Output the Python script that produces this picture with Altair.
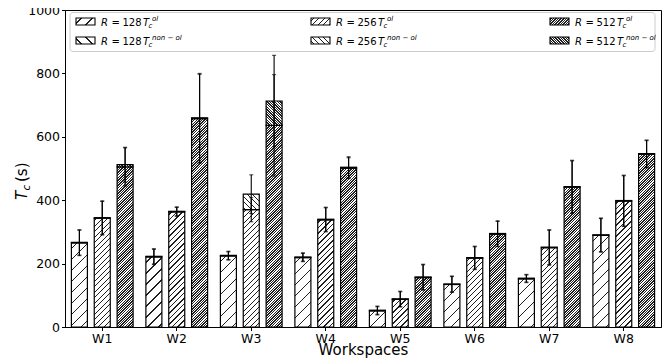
import math
import altair as alt
import pandas as pd

# ---------------- data ----------------
workspaces = ["W1", "W2", "W3", "W4", "W5", "W6", "W7", "W8"]
r_values = ["128", "256", "512"]

# T_c^ol (bottom part of each bar) per workspace, for R = 128, 256, 512
ol_mean = [
    [265, 343, 505],
    [221, 363, 657],
    [224, 370, 636],
    [219, 338, 501],
    [51, 87, 156],
    [134, 217, 293],
    [152, 250, 441],
    [289, 397, 545],
]
ol_err = [
    [40, 53, 60],
    [24, 14, 140],
    [13, 38, 160],
    [13, 38, 33],
    [13, 24, 40],
    [25, 36, 40],
    [12, 55, 83],
    [53, 80, 43],
]
# T_c^non-ol (stacked on top of the ol part)
nonol_mean = [
    [2, 2, 7],
    [2, 2, 3],
    [2, 49, 77],
    [2, 2, 3],
    [2, 2, 2],
    [2, 2, 2],
    [2, 2, 2],
    [2, 2, 2],
]
nonol_err = [
    [40, 53, 55],
    [24, 14, 140],
    [13, 61, 144],
    [13, 38, 33],
    [13, 24, 40],
    [25, 36, 40],
    [12, 55, 83],
    [53, 80, 43],
]

# ---------------- layout ----------------
W, H = 596, 317
YMAX = 1000
ppu = H / YMAX
step = W / len(workspaces)
OFF_PI, OFF_PO = 0.3, 0.28
off_step = step / (len(r_values) - OFF_PI + 2 * OFF_PO)
bw = off_step * (1 - OFF_PI)

hatch_spacing = {"128": 11.0, "256": 5.5, "512": 2.6}
FONT = "DejaVu Sans"


def hatch(w, h, sp, back=False, lw=1.0, color="#1f1f1f"):
    """Diagonal hatch as a linear gradient in bounding-box units."""
    h = max(h, 0.5)
    L = w + h
    s = L / (w * w + h * h)
    if back:
        x1, y1, x2, y2 = 0, 1, s * w, 1 - s * h
    else:
        x1, y1, x2, y2 = 0, 0, s * w, s * h
    d = lw * math.sqrt(2) / 2 / L
    stops = []
    c = sp / 2
    while c < L + sp:
        t = c / L
        a, b = t - d, t + d
        if b > 0 and a < 1:
            a = max(a, 0.0)
            b = min(b, 1.0)
            stops += [(a, "#ffffff"), (a, color), (b, color), (b, "#ffffff")]
        c += sp
    if not stops:
        stops = [(0, "#ffffff"), (1, "#ffffff")]
    return {
        "gradient": "linear",
        "x1": round(x1, 5), "y1": round(y1, 5),
        "x2": round(x2, 5), "y2": round(y2, 5),
        "stops": [{"offset": round(o, 5), "color": col} for o, col in stops],
    }


xscale = alt.Scale(domain=workspaces, paddingInner=0, paddingOuter=0)
offscale = alt.Scale(domain=r_values, paddingInner=OFF_PI, paddingOuter=OFF_PO)
yscale = alt.Scale(domain=[0, YMAX], nice=False, zero=True)
xaxis = alt.Axis(title="Workspaces", labelAngle=0, labelPadding=1.5, grid=False,
                 titleFontSize=15, titleFontWeight="normal", titleFont=FONT,
                 titleY=27, titleBaseline="alphabetic")
yaxis = alt.Axis(title=None, values=[0, 200, 400, 600, 800, 1000], format="d",
                 labelPadding=2, grid=False)


def enc_x():
    return dict(
        x=alt.X("ws:N", scale=xscale, axis=xaxis, sort=workspaces),
        xOffset=alt.XOffset("R:N", scale=offscale, sort=r_values),
    )


layers = []

# ---------------- bars ----------------
for i, ws in enumerate(workspaces):
    for j, r in enumerate(r_values):
        base = ol_mean[i][j]
        top = base + nonol_mean[i][j]
        for y0, y1, back in [(0, base, False), (base, top, True)]:
            row = pd.DataFrame({"ws": [ws], "R": [r], "y0": [y0], "y1": [y1]})
            grad = hatch(bw, (y1 - y0) * ppu, hatch_spacing[r], back=back)
            layers.append(
                alt.Chart(row)
                .mark_bar(fill=grad, stroke="black", strokeWidth=1.2)
                .encode(y=alt.Y("y0:Q", scale=yscale, axis=yaxis), y2="y1:Q", **enc_x())
            )

# ---------------- error bars ----------------
err_rows = []
for i, ws in enumerate(workspaces):
    for j, r in enumerate(r_values):
        m = ol_mean[i][j]
        e = ol_err[i][j]
        err_rows.append({"ws": ws, "R": r, "lo": m - e, "hi": m + e})
        t = ol_mean[i][j] + nonol_mean[i][j]
        e2 = nonol_err[i][j]
        err_rows.append({"ws": ws, "R": r, "lo": t - e2, "hi": t + e2})
err_df = pd.DataFrame(err_rows)

layers.append(
    alt.Chart(err_df).mark_rule(color="black", strokeWidth=1.1)
    .encode(y=alt.Y("lo:Q", scale=yscale, axis=yaxis), y2="hi:Q", **enc_x())
)
for fld in ["lo", "hi"]:
    layers.append(
        alt.Chart(err_df).mark_tick(color="black", thickness=1.1, size=4)
        .encode(y=alt.Y(f"{fld}:Q", scale=yscale, axis=yaxis), **enc_x())
    )

# ---------------- legend (drawn by hand for math text) ----------------
dummy = pd.DataFrame({"a": [0]})

layers.append(
    alt.Chart(dummy).mark_rect(fill="white", fillOpacity=0.8, stroke="#cccccc",
                               strokeWidth=1, cornerRadius=3)
    .encode(x=alt.value(5), x2=alt.value(590), y=alt.value(2.5), y2=alt.value(41.5))
)

col_x = [11, 246, 485]
row_patch_cy = [11.5, 30.5]
row_base = [15.8, 34.8]
PW, PH = 19, 7


def txt(x, y, s, size=10, italic=False):
    kw = dict(font=FONT, fontSize=size, align="left", baseline="alphabetic", color="black")
    if italic:
        kw["fontStyle"] = "italic"
    return alt.Chart(dummy).mark_text(**kw).encode(
        x=alt.value(x), y=alt.value(y), text=alt.value(s))


for j, r in enumerate(r_values):
    for k, (back, sup) in enumerate([(False, "ol"), (True, "non − ol")]):
        px = col_x[j]
        cy = row_patch_cy[k]
        grad = hatch(PW, PH, hatch_spacing[r], back=back)
        layers.append(
            alt.Chart(dummy).mark_rect(fill=grad, stroke="black", strokeWidth=1.1)
            .encode(x=alt.value(px), x2=alt.value(px + PW),
                    y=alt.value(cy - PH / 2), y2=alt.value(cy + PH / 2))
        )
        tx = px + 25
        by = row_base[k]
        layers.append(txt(tx, by, "R", italic=True))
        layers.append(txt(tx + 10.5, by, "="))
        layers.append(txt(tx + 21.5, by, r))
        layers.append(txt(tx + 42, by, "T", italic=True))
        layers.append(txt(tx + 47.5, by + 2.5, "c", size=7, italic=True))
        layers.append(txt(tx + 51, by - 4.5, sup, size=7, italic=True))

# ---------------- y-axis title T_c (s) ----------------
def rtxt(x, y, s, size, italic=False):
    kw = dict(font=FONT, fontSize=size, align="left", baseline="alphabetic",
              color="black", angle=270)
    if italic:
        kw["fontStyle"] = "italic"
    return alt.Chart(dummy).mark_text(**kw).encode(
        x=alt.value(x), y=alt.value(y), text=alt.value(s))


layers.append(rtxt(-38, 190, "T", 15, italic=True))
layers.append(rtxt(-35, 180.5, "c", 10.5, italic=True))
layers.append(rtxt(-38, 172, "(s)", 15))

chart = (
    alt.layer(*layers)
    .properties(
        width=W, height=H,
        background="white",
        autosize=alt.AutoSizeParams(type="none"),
        padding={"left": 57, "top": 2, "right": 2, "bottom": 31},
    )
    .configure_view(stroke="black", strokeWidth=1)
    .configure_axis(
        grid=False, domainColor="black", tickColor="black", labelColor="black",
        titleColor="black", labelFont=FONT, labelFontSize=12.5, tickSize=3.5,
        domainWidth=1, tickWidth=1,
    )
)

chart.save("out.html", embed_options={"renderer": "svg", "actions": False})
